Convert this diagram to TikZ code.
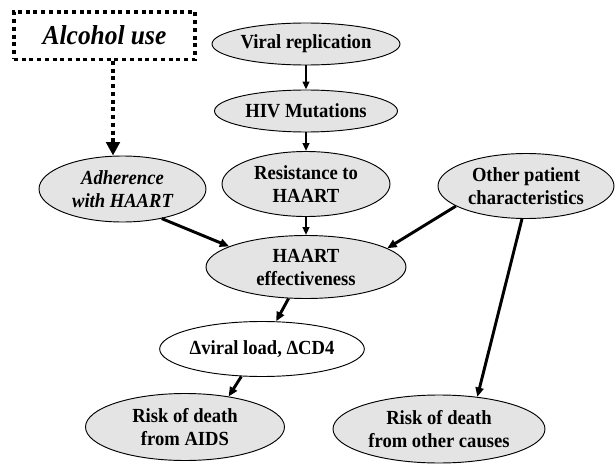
\documentclass[tikz,border=0pt]{standalone}
\usepackage{fontspec}
\setmainfont{Liberation Serif}[FakeStretch=0.93]
\usetikzlibrary{shapes.geometric,arrows.meta}
\definecolor{ovalgray}{RGB}{228,228,228}
\begin{document}
\begin{tikzpicture}[x=0.75pt,y=-0.75pt,
oval/.style={draw,ellipse,fill=ovalgray,line width=0.7pt,inner sep=0pt,align=center,font=\bfseries\fontsize{15}{17.25}\selectfont},
thinarr/.style={-{Triangle[length=6pt,width=5pt]},line width=1.5pt},
thickarr/.style={-{Triangle[length=7pt,width=6pt]},line width=2.2pt},
dotline/.style={line width=2.6pt,dash pattern=on 3pt off 2.8pt}]
\useasboundingbox (0,0) rectangle (615,464);
\node[draw,dotline,minimum width=136pt,minimum height=35.6pt,font=\bfseries\itshape\fontsize{20.5}{24}\selectfont](alc) at (104.5,35.5){Alcohol use};
\node[oval,minimum width=141pt,minimum height=31.5pt](vir) at (306,44){Viral replication};
\node[oval,minimum width=137.25pt,minimum height=31.5pt](mut) at (306,111){HIV Mutations};
\node[oval,minimum width=126pt,minimum height=48.75pt](res) at (306,184){Resistance to\\HAART};
\node[oval,minimum width=125.25pt,minimum height=49.5pt,font=\bfseries\itshape\fontsize{15}{17.25}\selectfont](adh) at (122.5,189){Adherence\\with HAART};
\node[oval,minimum width=132pt,minimum height=48.75pt](oth) at (526,186){Other patient\\characteristics};
\node[oval,minimum width=150pt,minimum height=47.25pt](eff) at (306,267){HAART\\effectiveness};
\node[oval,fill=white,minimum width=148.5pt,minimum height=41.25pt](dlt) at (262,349){Δviral load, ΔCD4};
\node[oval,minimum width=149.25pt,minimum height=50.25pt](aids) at (185,427){Risk of death\\from AIDS};
\node[oval,minimum width=159pt,minimum height=51pt](oc) at (439,429){Risk of death\\from other causes};
\coordinate (ax) at (113,0);
\draw[dotline,-{Triangle[length=10pt,width=10pt]}] (alc.south -| ax) -- (ax |- adh.north);
\draw[thinarr] (vir) -- (mut);
\draw[thinarr] (mut) -- (res);
\draw[thinarr] (res) -- (eff);
\draw[thickarr] (adh.-37) -- (eff.165);
\draw[thickarr] (oth.196) -- (eff.13);
\draw[thickarr] (oth.-97) -- (oc.40);
\draw[thickarr] (eff.-119) -- (dlt.63);
\draw[thickarr] (dlt.-127) -- (aids.35);
\end{tikzpicture}
\end{document}
